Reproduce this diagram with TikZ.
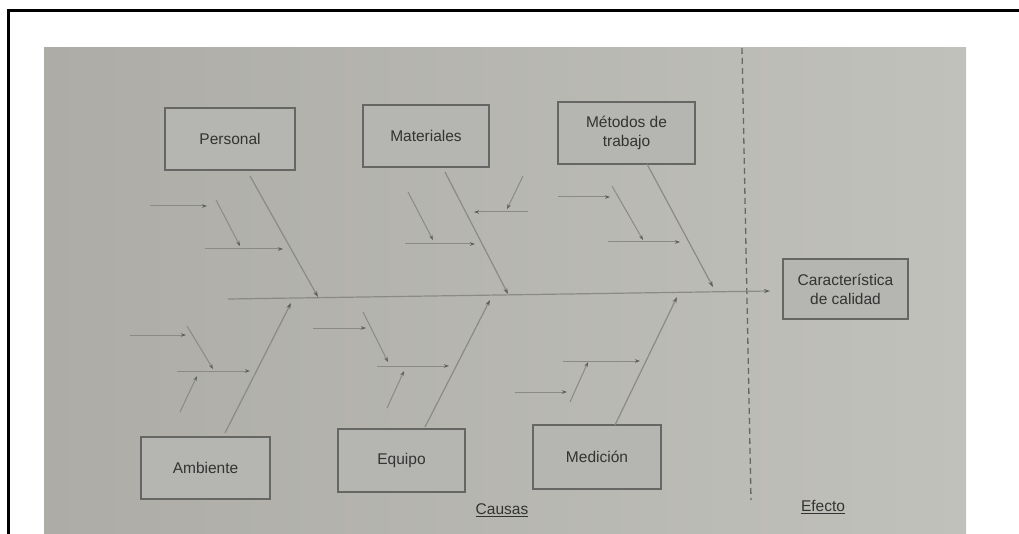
\documentclass[tikz,border=0pt]{standalone}
\usepackage{fontspec}
\setmainfont{Liberation Sans}
\usetikzlibrary{arrows.meta}
\definecolor{bgL}{HTML}{ADACA7}
\definecolor{bgM}{HTML}{C7C7C3}
\definecolor{bgR}{HTML}{C1C1BC}
\definecolor{boxfill}{HTML}{B5B5B1}
\definecolor{boxline}{HTML}{666664}
\definecolor{boneline}{HTML}{8A8A87}
\definecolor{tipcol}{HTML}{5E5E5C}
\definecolor{txt}{HTML}{333333}
\tikzset{
  cbox/.style={draw=boxline, line width=1.6pt, fill=boxfill, text=txt, align=center,
    font=\fontsize{15.5}{19}\selectfont, inner sep=0pt},
  bone/.style={draw=boneline, line width=1.2pt, -{Stealth[length=6pt,width=4pt,color=tipcol]}},
  subbone/.style={draw=boneline, line width=1pt, -{Stealth[length=5pt,width=3.5pt,color=tipcol]}},
  lbl/.style={text=txt, font=\fontsize{15.5}{18}\selectfont, inner sep=0pt}
}
\begin{document}
\begin{tikzpicture}[x=1pt,y=-1pt]
\useasboundingbox (0,0) rectangle (1019,534);
% photo background
\shade[left color=bgL, middle color=bgM, right color=bgR] (44,48) rectangle (966,534);
% frame
\draw[line width=3pt] (8,534) -- (8,11) -- (1019,11);
% dashed separator
\coordinate (d1) at (742,48);
\coordinate (d2) at (751,500);
\draw[boxline, line width=1.3pt, dash pattern=on 6pt off 4pt] (d1) -- (d2);
% boxes
\node[cbox, minimum width=130pt, minimum height=62pt] (pers) at (230,139) {Personal};
\node[cbox, minimum width=126pt, minimum height=62pt] (mat) at (426,136) {Materiales};
\node[cbox, minimum width=137pt, minimum height=62pt] (met) at (626.5,133) {Métodos de\\trabajo};
\node[cbox, minimum width=125pt, minimum height=60pt] (car) at (845.5,289) {Característica\\de calidad};
\node[cbox, minimum width=129pt, minimum height=62pt] (amb) at (205.5,468) {Ambiente};
\node[cbox, minimum width=127pt, minimum height=63pt] (equ) at (401.5,460.5) {Equipo};
\node[cbox, minimum width=128pt, minimum height=64pt] (med) at (597,457) {Medición};
% labels
\node[lbl] (causas) at (502,510) {\underline{Causas}};
\node[lbl] (efecto) at (823,507) {\underline{Efecto}};
% spine
\coordinate (s0) at (228,299);
\coordinate (s1) at (770,291);
\draw[bone] (s0) -- (s1);
% main bones
\coordinate (P1) at (250,176); \coordinate (P2) at (318,297);
\coordinate (M1) at (445,172); \coordinate (M2) at (508,294);
\coordinate (T1) at (647,164); \coordinate (T2) at (713,287);
\coordinate (A1) at (225,433); \coordinate (A2) at (291,303);
\coordinate (E1) at (425,427); \coordinate (E2) at (490,300);
\coordinate (D1) at (615,425); \coordinate (D2) at (677,297);
\draw[bone] (P1) -- (P2);
\draw[bone] (M1) -- (M2);
\draw[bone] (T1) -- (T2);
\draw[bone] (A1) -- (A2);
\draw[bone] (E1) -- (E2);
\draw[bone] (D1) -- (D2);
% Personal sub-bones
\coordinate (pa1) at (150,206); \coordinate (pa2) at (207,206);
\coordinate (pb1) at (216,200); \coordinate (pb2) at (240,246);
\coordinate (pc1) at (205,249); \coordinate (pc2) at (283,249);
\draw[subbone] (pa1) -- (pa2);
\draw[subbone] (pb1) -- (pb2);
\draw[subbone] (pc1) -- (pc2);
% Materiales sub-bones
\coordinate (ma1) at (408,192); \coordinate (ma2) at (433,240);
\coordinate (mb1) at (405,244); \coordinate (mb2) at (475,244);
\coordinate (mc1) at (528,212); \coordinate (mc2) at (474,212);
\coordinate (md1) at (523,176); \coordinate (md2) at (507,209);
\draw[subbone] (ma1) -- (ma2);
\draw[subbone] (mb1) -- (mb2);
\draw[subbone] (mc1) -- (mc2);
\draw[subbone] (md1) -- (md2);
% Metodos sub-bones
\coordinate (ta1) at (558,197); \coordinate (ta2) at (610,197);
\coordinate (tb1) at (612,186); \coordinate (tb2) at (643,240);
\coordinate (tc1) at (608,242); \coordinate (tc2) at (680,242);
\draw[subbone] (ta1) -- (ta2);
\draw[subbone] (tb1) -- (tb2);
\draw[subbone] (tc1) -- (tc2);
% Ambiente sub-bones
\coordinate (aa1) at (130,335); \coordinate (aa2) at (186,335);
\coordinate (ab1) at (187,326); \coordinate (ab2) at (213,369);
\coordinate (ac1) at (177,371); \coordinate (ac2) at (250,371);
\coordinate (ad1) at (180,412); \coordinate (ad2) at (197,376);
\draw[subbone] (aa1) -- (aa2);
\draw[subbone] (ab1) -- (ab2);
\draw[subbone] (ac1) -- (ac2);
\draw[subbone] (ad1) -- (ad2);
% Equipo sub-bones
\coordinate (ea1) at (313,328); \coordinate (ea2) at (366,328);
\coordinate (eb1) at (363,312); \coordinate (eb2) at (388,362);
\coordinate (ec1) at (377,366); \coordinate (ec2) at (449,366);
\coordinate (ed1) at (387,408); \coordinate (ed2) at (404,371);
\draw[subbone] (ea1) -- (ea2);
\draw[subbone] (eb1) -- (eb2);
\draw[subbone] (ec1) -- (ec2);
\draw[subbone] (ed1) -- (ed2);
% Medicion sub-bones
\coordinate (da1) at (563,361); \coordinate (da2) at (640,361);
\coordinate (db1) at (570,402); \coordinate (db2) at (588,362);
\coordinate (dc1) at (515,392); \coordinate (dc2) at (567,392);
\draw[subbone] (da1) -- (da2);
\draw[subbone] (db1) -- (db2);
\draw[subbone] (dc1) -- (dc2);
\end{tikzpicture}
\end{document}
